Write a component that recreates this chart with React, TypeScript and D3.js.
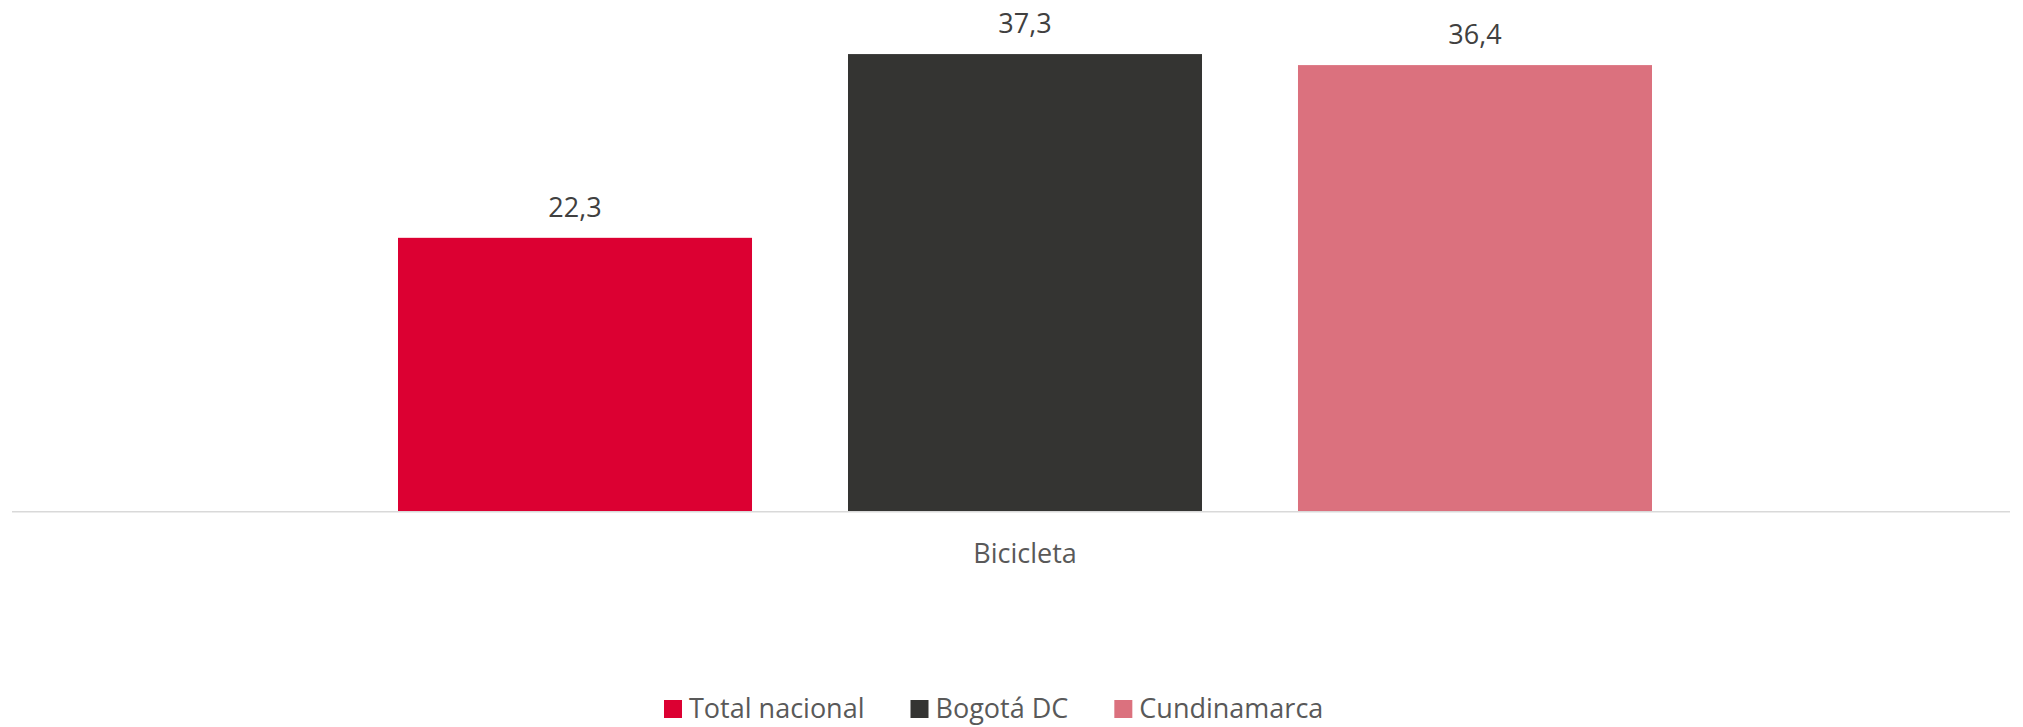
import React, { useEffect, useRef } from 'react';
import * as d3 from 'd3';

const categories = ['Bicicleta'];
const seriesNames = ['Total nacional', 'Bogotá DC', 'Cundinamarca'];
const seriesValues = [22.3, 37.3, 36.4];
const seriesColors = ['#DC0032', '#343432', '#DB717E'];

const App = () => {
  const svgRef = useRef<SVGSVGElement>(null);

  useEffect(() => {
    document.body.style.margin = '0';
    const svg = d3.select(svgRef.current);
    svg.selectAll('*').remove();

    const width = 2023;
    const height = 727;
    const baseY = 511;
    const font = "'Open Sans', sans-serif";

    svg.attr('width', width).attr('height', height);

    // Scales
    const yScale = d3.scaleLinear().domain([0, 40]).range([baseY, 21]);

    const xCat = d3.scaleBand<string>()
      .domain(categories)
      .range([398, 1652])
      .padding(0);

    const xSeries = d3.scaleBand<string>()
      .domain(seriesNames)
      .range([0, xCat.bandwidth()])
      .paddingInner(0.2133)
      .paddingOuter(0);

    // Baseline axis
    svg.append('line')
      .attr('x1', 12)
      .attr('x2', 2010)
      .attr('y1', baseY + 0.75)
      .attr('y2', baseY + 0.75)
      .attr('stroke', '#D9D9D9')
      .attr('stroke-width', 1.5);

    const group = svg.append('g')
      .attr('transform', `translate(${xCat(categories[0])}, 0)`);

    // Bars
    group.selectAll('.bar')
      .data(seriesNames)
      .enter().append('rect')
      .attr('class', 'bar')
      .attr('x', d => xSeries(d)!)
      .attr('width', xSeries.bandwidth())
      .attr('y', (d, i) => yScale(seriesValues[i]))
      .attr('height', (d, i) => baseY - yScale(seriesValues[i]))
      .attr('fill', (d, i) => seriesColors[i]);

    // Value labels
    group.selectAll('.val')
      .data(seriesNames)
      .enter().append('text')
      .attr('class', 'val')
      .attr('x', d => xSeries(d)! + xSeries.bandwidth() / 2)
      .attr('y', (d, i) => yScale(seriesValues[i]) - 21)
      .attr('text-anchor', 'middle')
      .style('font-family', font)
      .style('font-size', '27px')
      .style('fill', '#404040')
      .text((d, i) => seriesValues[i].toFixed(1).replace('.', ','));

    // Category label
    svg.append('text')
      .attr('x', xCat(categories[0])! + xCat.bandwidth() / 2)
      .attr('y', 563)
      .attr('text-anchor', 'middle')
      .style('font-family', font)
      .style('font-size', '27px')
      .style('fill', '#595959')
      .text(categories[0]);

    // Legend
    const legend = svg.append('g');
    let cursor = 0;
    seriesNames.forEach((name, i) => {
      const item = legend.append('g').attr('transform', `translate(${cursor}, 0)`);
      item.append('rect')
        .attr('x', 0)
        .attr('y', 700)
        .attr('width', 18)
        .attr('height', 18)
        .attr('fill', seriesColors[i]);
      const t = item.append('text')
        .attr('x', 25)
        .attr('y', 718)
        .style('font-family', font)
        .style('font-size', '27px')
        .style('fill', '#595959')
        .text(name);
      const w = (t.node() as SVGTextElement).getComputedTextLength();
      cursor += 25 + w + 46;
    });
    legend.attr('transform', `translate(664, 0)`);
  }, []);

  return <svg ref={svgRef} style={{ display: 'block' }}></svg>;
};

export default App;
